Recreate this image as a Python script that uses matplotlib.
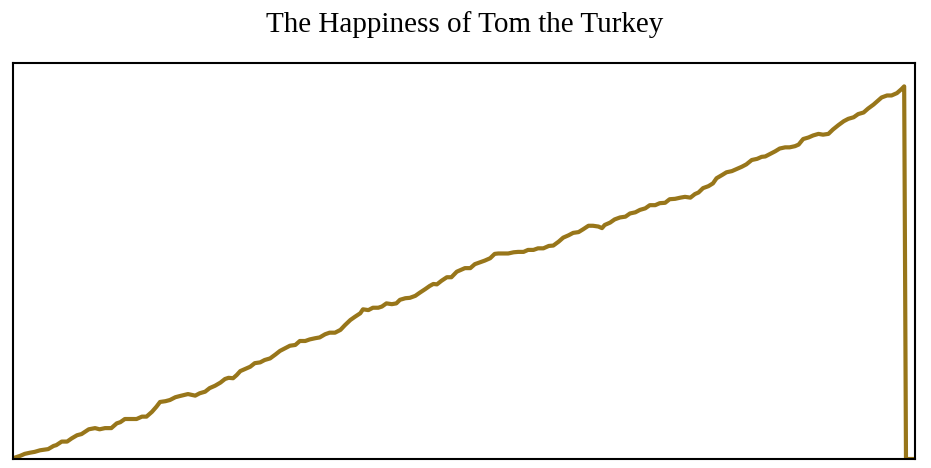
import matplotlib
matplotlib.use("Agg")
import matplotlib.pyplot as plt

title = "The Happiness of Tom the Turkey"

days = [0, 8, 13, 19, 24, 30, 33, 39, 45, 48, 54, 60, 65, 71, 76, 84, 91, 96, 102, 109,
        115, 119, 124, 130, 137, 143, 148, 154, 159, 163, 169, 174, 180, 185, 194, 202, 207,
        213, 218, 224, 230, 235, 239, 244, 248, 252, 257, 263, 268, 274, 279, 285, 291, 296,
        302, 307, 313, 318, 324, 329, 335, 340, 346, 351, 357, 363, 368, 374, 379, 385, 388,
        394, 399, 405, 409, 414, 420, 425, 429, 435, 440, 446, 451, 457, 462, 466, 470, 475,
        481, 486, 492, 496, 501, 507, 512, 518, 523, 529, 534, 538, 544, 549, 555, 560, 566,
        571, 577, 582, 588, 594, 599, 605, 610, 616, 621, 627, 632, 638, 643, 649, 653, 656,
        662, 667, 673, 679, 684, 690, 695, 701, 706, 712, 717, 723, 728, 734, 740, 745, 751,
        756, 760, 765, 771, 776, 780, 786, 791, 797, 802, 808, 813, 819, 825, 830, 834, 839,
        845, 850, 856, 861, 867, 871, 876, 882, 887, 893, 898, 904, 909, 915, 921, 926, 932,
        937, 943, 948, 954, 959, 963, 969, 974, 980, 985, 988, 990, 1000]

happiness = [0.2, 0.8, 1.3, 1.6, 1.8, 2.2, 2.3, 2.5, 3.3, 3.5, 4.4, 4.4, 5.2, 6.0, 6.3, 7.5,
             7.8, 7.5, 7.8, 7.8, 9.0, 9.3, 10.1, 10.1, 10.1, 10.7, 10.7, 11.9, 13.2, 14.4, 14.6,
             14.9, 15.6, 15.9, 16.4, 16.0, 16.6, 17.0, 17.9, 18.5, 19.3, 20.2, 20.5, 20.4, 21.2,
             22.2, 22.7, 23.3, 24.2, 24.4, 25.0, 25.4, 26.4, 27.3, 28.0, 28.6, 28.8, 29.8, 29.8,
             30.2, 30.5, 30.7, 31.5, 31.9, 31.9, 32.6, 33.8, 35.1, 35.9, 36.8, 37.8, 37.6, 38.2,
             38.2, 38.5, 39.3, 39.1, 39.3, 40.2, 40.6, 40.7, 41.2, 42.0, 42.9, 43.7, 44.2, 44.1,
             45.0, 45.9, 45.9, 47.3, 47.7, 48.2, 48.2, 49.2, 49.7, 50.1, 50.7, 51.8, 51.9, 51.9,
             51.9, 52.2, 52.3, 52.3, 52.8, 52.8, 53.2, 53.2, 53.8, 53.9, 54.9, 55.9, 56.5, 57.1,
             57.3, 58.0, 58.9, 58.9, 58.7, 58.3, 59.1, 59.7, 60.5, 61.0, 61.2, 62.0, 62.3, 62.9,
             63.3, 64.1, 64.1, 64.6, 64.7, 65.6, 65.7, 66.0, 66.2, 66.0, 66.9, 67.3, 68.4, 68.9,
             69.6, 70.9, 71.7, 72.4, 72.7, 73.2, 73.8, 74.4, 75.5, 75.8, 76.3, 76.4, 77.0, 77.7,
             78.4, 78.7, 78.7, 79.0, 79.4, 80.8, 81.2, 81.7, 82.1, 81.9, 82.1, 83.2, 84.3, 85.3,
             85.9, 86.3, 87.1, 87.5, 88.5, 89.5, 90.5, 91.3, 91.8, 91.8, 92.4, 93.4, 94.1, 0.0, 0.0]

W, H = 931, 468
fig = plt.figure(figsize=(W / 100, H / 100), dpi=100)
ax = fig.add_axes([13 / W, (H - 459) / H, (915 - 13) / W, (459 - 63) / H])

ax.plot(days, happiness, color="#98761a", linewidth=3.0, solid_joinstyle="round",
        solid_capstyle="butt")
ax.set_xlim(0, 1000)
ax.set_ylim(0, 100)
ax.set_xticks([])
ax.set_yticks([])
for s in ax.spines.values():
    s.set_linewidth(1.5)
    s.set_color("black")

fig.text(464.5 / W, 1 - 25 / H, title, ha="center", va="center",
         fontsize=21, family="Liberation Serif", color="black")

fig.savefig("out.png", dpi=100, facecolor="white")
